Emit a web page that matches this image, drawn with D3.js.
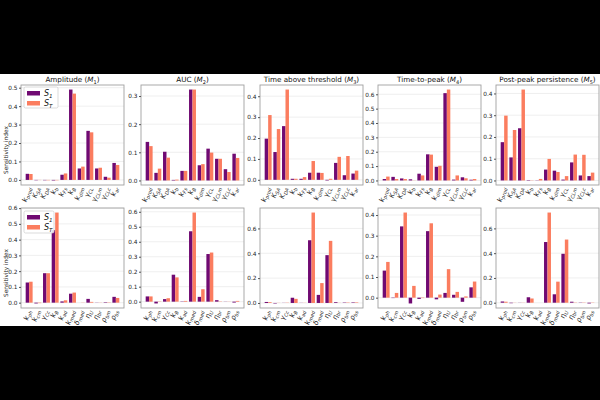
<!DOCTYPE html>
<html>
<head>
<meta charset="utf-8">
<script src="https://cdn.jsdelivr.net/npm/d3@7"></script>
<style>
body{margin:0;background:#000;}
svg{display:block;font-family:"DejaVu Sans",sans-serif;}
</style>
</head>
<body>
<svg width="600" height="400"></svg>
<script>
// categories (main letter, subscript)
var topCats = [["k","prod"],["K","SA"],["K","DA"],["k","b"],["k","Fs"],["k","B"],["k","dim"],["γ","CL"],["γ","CLm"],["γ","CLc"],["k","ar"]];
var botCats = [["k","ph"],["k","cm"],["γ","Cc"],["k","B"],["k","ad"],["k","med"],["δ","med"],["η","U"],["η","br"],["ρ","bm"],["ρ","bs"]];
var titles = [["Amplitude (","1"],["AUC (","2"],["Time above threshold (","3"],["Time-to-peak (","4"],["Post-peak persistence (","5"]];

// top row: S1 / ST
var ampS1 = [0.033,-0.002,-0.002,-0.003,0.028,0.490,0.062,0.266,0.062,0.017,0.092];
var ampST = [0.032,-0.001,-0.002,-0.002,0.035,0.468,0.072,0.258,0.066,0.012,0.081];
var aucS1 = [0.137,0.027,0.102,0.002,0.034,0.323,0.054,0.113,0.077,0.040,0.095];
var aucST = [0.122,0.042,0.081,0.003,0.034,0.323,0.058,0.099,0.077,0.030,0.080];
var tatS1 = [0.197,0.133,0.257,0.005,0.005,0.034,0.034,-0.003,0.081,0.022,0.030];
var tatST = [0.310,0.243,0.432,0.005,0.013,0.090,0.033,0.005,0.110,0.114,0.044];
var ttpS1 = [0.010,0.025,0.014,0.008,0.047,0.182,0.095,0.608,0.006,0.022,0.005];
var ttpST = [0.027,0.010,0.010,0.001,0.035,0.180,0.102,0.633,0.035,0.015,0.010];
var pppS1 = [0.176,0.106,0.240,0.002,0.001,0.050,0.045,0.004,0.083,0.023,0.020];
var pppST = [0.298,0.232,0.418,0.001,0.007,0.099,0.039,0.020,0.119,0.118,0.036];

// bottom row
var b1S1 = [0.128,-0.005,0.187,0.460,0.008,0.057,0.000,0.024,0.001,0.003,0.037];
var b1ST = [0.133,-0.003,0.187,0.572,0.015,0.064,0.001,0.005,0.001,0.002,0.030];
var b2S1 = [0.035,-0.012,0.017,0.180,0.002,0.470,0.032,0.318,0.010,0.001,-0.006];
var b2ST = [0.035,0.002,0.023,0.162,0.005,0.595,0.083,0.328,0.002,0.001,0.005];
var b3S1 = [0.008,-0.004,0.001,0.042,0.001,0.505,0.065,0.385,0.006,0.003,0.004];
var b3ST = [0.006,0.001,0.002,0.033,0.001,0.728,0.160,0.500,0.001,0.003,0.004];
var b4S1 = [0.131,-0.002,0.345,-0.028,-0.006,0.322,-0.008,0.023,0.014,-0.020,0.050];
var b4ST = [0.173,0.023,0.412,0.057,-0.002,0.360,0.015,0.138,0.028,0.006,0.078];
var b5S1 = [0.010,-0.004,0.001,0.044,0.000,0.490,0.068,0.395,0.008,0.002,-0.006];
var b5ST = [0.008,0.001,0.001,0.034,0.000,0.728,0.170,0.510,0.002,0.002,0.002];

var topTicks = [[0,0.1,0.2,0.3,0.4,0.5],[0,0.1,0.2,0.3],[0,0.1,0.2,0.3,0.4],[0,0.1,0.2,0.3,0.4,0.5,0.6],[0,0.1,0.2,0.3,0.4]];
var botTicks = [[0,0.1,0.2,0.3,0.4,0.5,0.6],[0,0.1,0.2,0.3,0.4,0.5,0.6],[0,0.2,0.4,0.6],[0,0.1,0.2,0.3,0.4],[0,0.2,0.4,0.6]];

var cS1 = '#700a72', cST = '#fb7d5f';

var svg = d3.select('svg');
svg.append('rect').attr('x',0).attr('y',74).attr('width',600).attr('height',252).attr('fill','#fff');

var panels = [
  {row:0,col:0,s1:ampS1,st:ampST,cats:topCats,ticks:topTicks[0]},
  {row:0,col:1,s1:aucS1,st:aucST,cats:topCats,ticks:topTicks[1]},
  {row:0,col:2,s1:tatS1,st:tatST,cats:topCats,ticks:topTicks[2]},
  {row:0,col:3,s1:ttpS1,st:ttpST,cats:topCats,ticks:topTicks[3]},
  {row:0,col:4,s1:pppS1,st:pppST,cats:topCats,ticks:topTicks[4]},
  {row:1,col:0,s1:b1S1,st:b1ST,cats:botCats,ticks:botTicks[0]},
  {row:1,col:1,s1:b2S1,st:b2ST,cats:botCats,ticks:botTicks[1]},
  {row:1,col:2,s1:b3S1,st:b3ST,cats:botCats,ticks:botTicks[2]},
  {row:1,col:3,s1:b4S1,st:b4ST,cats:botCats,ticks:botTicks[3]},
  {row:1,col:4,s1:b5S1,st:b5ST,cats:botCats,ticks:botTicks[4]}
];

var lefts = [21,141,260,378,496];
var tops = [85,208];
var pw = 103, ph = 100;

function subText(sel, main, sub, size, italicMain) {
  sel.append('tspan').text(main).attr('font-style', italicMain ? 'italic' : 'normal');
  sel.append('tspan').text(sub).attr('font-size', size*0.7).attr('font-style','italic').attr('dy', size*0.25);
}

panels.forEach(function(p) {
  var g = svg.append('g').attr('transform','translate('+lefts[p.col]+','+tops[p.row]+')');
  var all = p.s1.concat(p.st);
  var lo = Math.min(0, d3.min(all)), hi = d3.max(all);
  var pad = (hi-lo)*0.05;
  var y = d3.scaleLinear().domain([lo-pad, hi+pad]).range([ph,0]);
  var x = d3.scaleLinear().domain([-0.94,10.94]).range([0,pw]);

  // grid
  g.selectAll('.grid').data(p.ticks).enter().append('line')
    .attr('x1',0).attr('x2',pw).attr('y1',function(d){return y(d);}).attr('y2',function(d){return y(d);})
    .attr('stroke','#ebebeb').attr('stroke-width',0.8);

  g.selectAll('.b1').data(p.s1).enter().append('rect')
    .attr('x',function(d,i){return x(i-0.4);}).attr('width',x(0.4)-x(0))
    .attr('y',function(d){return y(Math.max(0,d));})
    .attr('height',function(d){return Math.abs(y(d)-y(0));})
    .attr('fill',cS1);
  g.selectAll('.b2').data(p.st).enter().append('rect')
    .attr('x',function(d,i){return x(i);}).attr('width',x(0.4)-x(0))
    .attr('y',function(d){return y(Math.max(0,d));})
    .attr('height',function(d){return Math.abs(y(d)-y(0));})
    .attr('fill',cST);

  g.append('rect').attr('width',pw).attr('height',ph).attr('fill','none').attr('stroke','#a0a0a0').attr('stroke-width',0.9);

  var ax = g.append('g').call(d3.axisLeft(y).tickValues(p.ticks).tickFormat(d3.format('.1f')).tickSize(2).tickPadding(1.5));
  ax.select('.domain').remove();
  ax.selectAll('line').attr('stroke','#555');
  ax.selectAll('text').attr('font-size',5.8).attr('fill','#222').attr('font-family','DejaVu Sans');

  // x labels
  p.cats.forEach(function(c,i) {
    var t = g.append('text')
      .attr('transform','translate('+(x(i)+2)+','+(ph+3)+') rotate(-72)')
      .attr('text-anchor','end').attr('font-size',7).attr('fill','#222');
    subText(t, c[0], c[1], 7, true);
  });

  if (p.col === 0) {
    var lg = g.append('g').attr('transform','translate(3,'+(p.row===0?2:3)+')');
    lg.append('rect').attr('width',p.row===0?34:30).attr('height',p.row===0?21:22).attr('rx',1.5)
      .attr('fill','#fff').attr('fill-opacity',0.85).attr('stroke','#ccc').attr('stroke-width',0.7);
    [[cS1,'1'],[cST,'T']].forEach(function(e,k) {
      lg.append('rect').attr('x',3).attr('y',4+k*10).attr('width',13).attr('height',4.5).attr('fill',e[0]);
      var t = lg.append('text').attr('x',20).attr('y',9+k*10).attr('font-size',8).attr('fill','#111');
      subText(t,'S',e[1],8,true);
    });
    svg.append('text')
      .attr('transform','translate(7.5,'+(tops[p.row]+ph/2+15)+') rotate(-90)')
      .attr('text-anchor','middle').attr('font-size',5.8).attr('fill','#222').text('Sensitivity index');
  }

  if (p.row === 0) {
    var tt = g.append('text').attr('x',pw/2).attr('y',-3).attr('text-anchor','middle').attr('font-size',7.2).attr('fill','#111');
    tt.append('tspan').text(titles[p.col][0]);
    tt.append('tspan').text('M').attr('font-style','italic');
    tt.append('tspan').text(titles[p.col][1]).attr('font-size',5).attr('dy',2);
    tt.append('tspan').text(')').attr('dy',-2);
  }
});
</script>
</body>
</html>
